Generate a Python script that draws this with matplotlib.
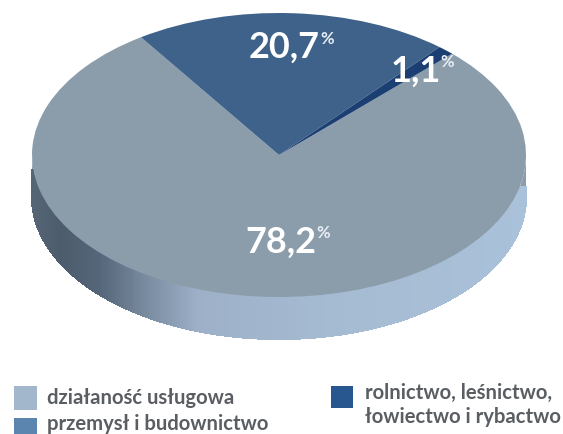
import numpy as np
import matplotlib
matplotlib.use("Agg")
import matplotlib.pyplot as plt
from matplotlib.colors import to_rgb
from matplotlib.patches import Rectangle, Polygon

W, H = 563, 434
shares = [78.2, 20.7, 1.1]
value_labels = ["78,2", "20,7", "1,1"]
categories = ["działaność usługowa", "przemysł i budownictwo",
              "rolnictwo, leśnictwo,\nłowiectwo i rybactwo"]
top_colors = ["#8B9CAB", "#3E6289", "#1C3F73"]
legend_colors = ["#A3B7CC", "#5B84AE", "#28568F"]

plt.rcParams["font.family"] = ["Lato", "DejaVu Sans"]
fig = plt.figure(figsize=(W / 100, H / 100), dpi=100, facecolor="white")

CX, CY, RX, RY, DEPTH = 279, 155, 247, 142, 42
bg = fig.add_axes([0, 0, 1, 1])
bg.set_xlim(0, W); bg.set_ylim(H, 0); bg.axis("off")

side_stops = [0.0, 0.06, 0.14, 0.24, 0.34, 0.60, 1.0]
side_cols = ["#566676", "#4C5C6C", "#55667A", "#7C8EA2", "#9DB0C8", "#A5BBD2", "#A9C1D9"]
def side_color(t):
    return [np.interp(t, side_stops, [to_rgb(c)[i] for c in side_cols]) for i in range(3)]

# the rim only becomes visible some way below the widest point of the disc
rim_start_left, rim_start_right = 170, 187
ang = np.linspace(np.pi, 0, 241)
xs, ys = CX + RX * np.cos(ang), CY + RY * np.sin(ang)
bg.add_patch(Polygon(np.r_[np.c_[xs, ys], np.c_[xs, ys + DEPTH][::-1]], closed=True,
                     fc=top_colors[0], ec="none"))
for x0, x1, y0, y1 in zip(xs[:-1], xs[1:], ys[:-1], ys[1:]):
    xm = 0.5 * (x0 + x1)
    t = (xm - (CX - RX)) / (2 * RX)
    ystart = rim_start_left if xm < CX else rim_start_right
    c = side_color(t)
    bg.add_patch(Polygon([(x0, max(y0, ystart)), (x1, max(y1, ystart)),
                          (x1, y1 + DEPTH), (x0, y0 + DEPTH)],
                         closed=True, fc=c, ec=c, lw=0.8, antialiased=False))

pie_ax = fig.add_axes([(CX - RX) / W, 1 - (CY + RY) / H, 2 * RX / W, 2 * RY / H])
pie_ax.patch.set_alpha(0)
pie_ax.pie(shares, colors=top_colors, startangle=45.5, counterclock=False, radius=1)
pie_ax.set_aspect("auto")
pie_ax.set_xlim(-1, 1); pie_ax.set_ylim(-1, 1)

label_pos = [(281, 242), (284, 47), (416, 71)]
pct_pos = [(323, 233), (327, 39), (447, 62)]
for s, (x, y), (px, py) in zip(value_labels, label_pos, pct_pos):
    fig.text(x / W, 1 - y / H, s, color="white", fontsize=26, fontweight="bold", ha="center", va="center")
    fig.text(px / W, 1 - py / H, "%", color="#E8EDF2", fontsize=12, fontweight="bold", ha="center", va="center")

swatches = [(14, 386, 23, 24), (14, 418, 23, 16), (331, 386, 22, 22)]
texts = [(47, 398), (47, 424), (365, 405)]
for (x, y, w, h), c in zip(swatches, legend_colors):
    bg.add_patch(Rectangle((x, y), w, h, fc=c, ec="none"))
for (x, y), s in zip(texts, categories):
    fig.text(x / W, 1 - y / H, s, color="#5A5E63", fontsize=14.6, fontweight="bold",
             ha="left", va="center", linespacing=1.2)

fig.savefig("out.png", dpi=100, facecolor="white")
